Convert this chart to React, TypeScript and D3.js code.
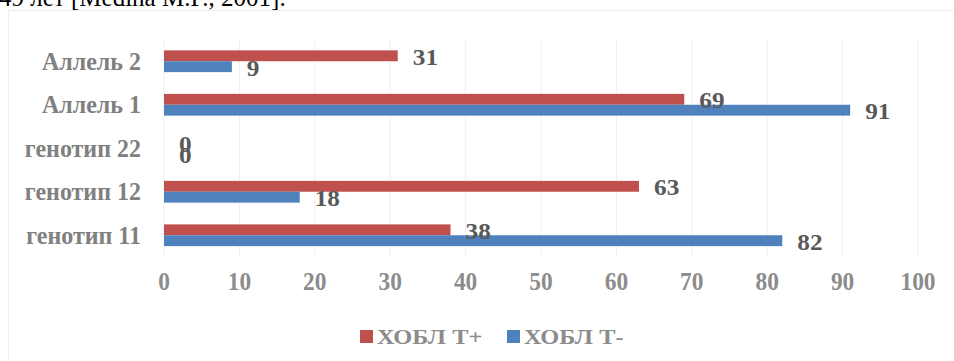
import React from "react";
import * as d3 from "d3";

const categories = ["Аллель 2", "Аллель 1", "генотип 22", "генотип 12", "генотип 11"];
const seriesNames = ["ХОБЛ Т+", "ХОБЛ Т-"];
const seriesPlus = [31, 69, 0, 63, 38];
const seriesMinus = [9, 91, 0, 18, 82];
const xTicks = [0, 10, 20, 30, 40, 50, 60, 70, 80, 90, 100];
const colors = ["#C0504D", "#4F81BD"];

export default function App() {
  const W = 954, H = 361;
  const x = d3.scaleLinear().domain([0, 100]).range([164, 918]);
  const y = d3.scaleBand<string>().domain(categories).range([39.5, 257]).paddingInner(0.5).paddingOuter(0.25);
  const sub = d3.scaleBand<string>().domain(seriesNames).range([0, y.bandwidth()]);
  const series = [seriesPlus, seriesMinus];
  const serif = "'Liberation Serif', 'Times New Roman', serif";

  return (
    <svg width={W} height={H} style={{ position: "absolute", left: 0, top: 0, background: "#fff" }} fontFamily={serif}>
      <text x={-1} y={6} fontSize={25} fill="#000">49 лет [Medina M.F., 2001].</text>
      <rect x={8.5} y={10.5} width={1000} height={400} fill="none" stroke="#ececec" strokeWidth={1} />
      {xTicks.map((t) => (
        <line key={"g" + t} x1={x(t)} x2={x(t)} y1={39} y2={257} stroke="#efefef" strokeWidth={1} />
      ))}
      {categories.map((c, i) => (
        <g key={c}>
          {series.map((s, j) => {
            const y0 = (y(c) as number) + (sub(seriesNames[j]) as number);
            return (
              <rect key={j} x={x(0)} y={y0} width={x(s[i]) - x(0)} height={sub.bandwidth()} fill={colors[j]} />
            );
          })}
        </g>
      ))}
      {categories.map((c, i) => (
        <text key={"c" + c} transform={`translate(141,${(y(c) as number) + y.bandwidth() / 2 + 8.5}) scale(0.96,1)`} textAnchor="end" fontSize={25} fontWeight="bold" fill="#808080">
          {c}
        </text>
      ))}
      {categories.map((c, i) =>
        series.map((s, j) => {
          const cy = (y(c) as number) + (sub(seriesNames[j]) as number) + sub.bandwidth() / 2;
          return (
            <text key={"v" + i + j} transform={`translate(${x(s[i]) + 15},${cy + 9}) scale(1.1,1)`} fontSize={23} fontWeight="bold" fill="#595959">
              {s[i]}
            </text>
          );
        })
      )}
      {xTicks.map((t) => (
        <text key={"t" + t} transform={`translate(${x(t)},290) scale(0.9,1)`} textAnchor="middle" fontSize={26} fontWeight="bold" fill="#8c8c8c">
          {t}
        </text>
      ))}
      {seriesNames.map((n, j) => {
        const lx = j === 0 ? 360 : 507;
        return (
          <g key={"l" + n}>
            <rect x={lx} y={330} width={13} height={13} fill={colors[j]} />
            <text transform={`translate(${lx + 17},344) scale(1.22,1)`} fontSize={20} fontWeight="bold" fill="#8c8c8c">{n}</text>
          </g>
        );
      })}
    </svg>
  );
}
